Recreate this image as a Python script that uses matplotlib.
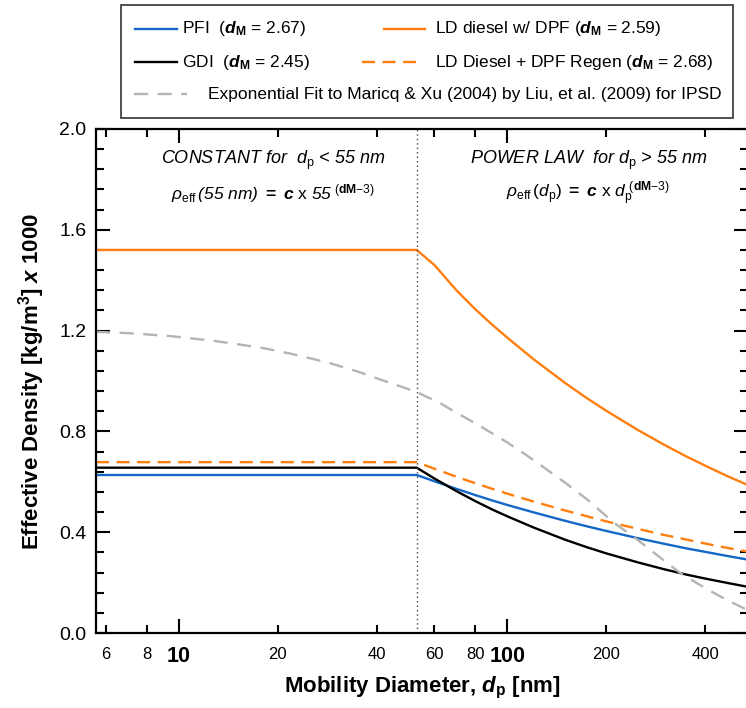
import numpy as np
import matplotlib
matplotlib.use("Agg")
import matplotlib.pyplot as plt
from matplotlib.ticker import FixedLocator, FixedFormatter, MultipleLocator, FormatStrFormatter
from matplotlib.lines import Line2D
from matplotlib.patches import Rectangle

plt.rcParams["font.family"] = ["Liberation Sans", "DejaVu Sans"]
plt.rcParams["mathtext.fontset"] = "custom"
plt.rcParams["mathtext.rm"] = "Liberation Sans"
plt.rcParams["mathtext.it"] = "Liberation Sans:italic"
plt.rcParams["mathtext.bf"] = "Liberation Sans:italic:bold"
plt.rcParams["mathtext.sf"] = "Liberation Sans:bold"

dp = [5.6, 53, 60, 70, 80, 90, 100, 120, 150, 175, 200, 250, 300, 350, 400, 470, 540]
pfi = [0.627, 0.627, 0.602, 0.572, 0.547, 0.526, 0.508, 0.479, 0.445, 0.423, 0.405,
       0.376, 0.354, 0.336, 0.322, 0.305, 0.291]
gdi = [0.656, 0.656, 0.613, 0.563, 0.523, 0.490, 0.463, 0.419, 0.370, 0.340, 0.316,
       0.280, 0.253, 0.232, 0.216, 0.198, 0.183]
ld_dpf = [1.52, 1.52, 1.46, 1.36, 1.284, 1.223, 1.172, 1.087, 0.992, 0.931, 0.882,
          0.805, 0.747, 0.701, 0.664, 0.621, 0.587]
ld_regen = [0.678, 0.678, 0.652, 0.620, 0.594, 0.572, 0.553, 0.522, 0.486, 0.463, 0.443,
            0.413, 0.389, 0.371, 0.355, 0.337, 0.323]

# exponential fit (Liu et al. 2009)
dp_fit = [5.6, 7, 9.5, 13, 17.7, 22, 28.3, 35, 41, 47, 53, 62.5, 70, 80, 90, 100, 113,
          126, 150, 175, 210, 250, 290, 336, 400, 466, 540]
rho_fit = [1.195, 1.19, 1.178, 1.158, 1.133, 1.108, 1.074, 1.038, 1.006, 0.98, 0.956,
           0.912, 0.874, 0.832, 0.792, 0.756, 0.71, 0.667, 0.596, 0.53, 0.44, 0.368,
           0.302, 0.238, 0.178, 0.131, 0.09]

d_split = 53

labels = [
    r"PFI  ($\mathbf{d}_{\mathsf{M}}$ = 2.67)",
    r"GDI  ($\mathbf{d}_{\mathsf{M}}$ = 2.45)",
    r"LD diesel w/ DPF ($\mathbf{d}_{\mathsf{M}}$ = 2.59)",
    r"LD Diesel + DPF Regen ($\mathbf{d}_{\mathsf{M}}$ = 2.68)",
    "Exponential Fit to Maricq & Xu (2004) by Liu, et al. (2009) for IPSD",
]

BLUE = "#1467c8"
ORANGE = "#ff7f0e"
GREY = "#b4b4b4"

W, H = 746, 708
fig = plt.figure(figsize=(W / 100, H / 100), dpi=100)
ax = fig.add_axes([96 / W, 75 / H, (748 - 96) / W, (633 - 129) / H])

lw = 1.7
ax.plot(dp, pfi, color=BLUE, lw=lw)
ax.plot(dp, gdi, color="black", lw=lw)
ax.plot(dp, ld_dpf, color=ORANGE, lw=lw)
ax.plot(dp, ld_regen, color=ORANGE, lw=lw, dashes=(5.5, 3.2))
ax.plot(dp_fit, rho_fit, color=GREY, lw=lw, dashes=(6, 4))
ax.axvline(d_split, color="#444444", lw=1.0, ls=(0, (1, 2.2)))

ax.set_xscale("log")
ax.set_xlim(5.6, 540)
ax.set_ylim(0, 2.0)

ax.xaxis.set_major_locator(FixedLocator([10, 100]))
ax.xaxis.set_major_formatter(FixedFormatter(["10", "100"]))
ax.xaxis.set_minor_locator(FixedLocator([6, 8, 20, 40, 60, 80, 200, 400]))
ax.xaxis.set_minor_formatter(FixedFormatter(["6", "8", "20", "40", "60", "80", "200", "400"]))
ax.yaxis.set_major_locator(MultipleLocator(0.4))
ax.yaxis.set_minor_locator(MultipleLocator(0.08))
ax.yaxis.set_major_formatter(FormatStrFormatter("%.1f"))

ax.tick_params(which="both", direction="in", top=True, right=True, width=1.5)
ax.tick_params(which="major", length=10)
ax.tick_params(which="minor", length=6)
ax.tick_params(axis="x", which="major", labelsize=15.5, pad=9)
ax.tick_params(axis="x", which="minor", labelsize=12, pad=10)
ax.tick_params(axis="y", which="major", labelsize=14, pad=7)
for t in ax.get_xticklabels():
    t.set_fontweight("bold")
for s in ax.spines.values():
    s.set_linewidth(1.6)

ax.set_xlabel(r"Mobility Diameter, $\mathbf{d}_{\mathsf{p}}$ [nm]", fontsize=16,
              fontweight="bold", labelpad=6)
ax.set_ylabel(r"Effective Density [kg/m$^{\mathsf{3}}$] $\mathbf{x}$ 1000", fontsize=16,
              fontweight="bold", labelpad=9)

# region annotations
ax.text(0.272, 0.938, r"CONSTANT for  $d_{\rm p}$ < 55 nm", transform=ax.transAxes,
        fontsize=13, style="italic", ha="center", va="center")
ax.text(0.272, 0.872,
        r"$\rho_{\rm eff}\,$(55 nm) $\mathsf{=}$ $\mathbf{c}$ $\rm x$ 55$^{\ \mathit{(}\mathsf{dM}\mathit{-3)}}$",
        transform=ax.transAxes, fontsize=12.5, style="italic", ha="center", va="center")
ax.text(0.755, 0.938, r"POWER LAW  for $d_{\rm p}$ > 55 nm", transform=ax.transAxes,
        fontsize=13, style="italic", ha="center", va="center")
ax.text(0.755, 0.872,
        r"$\rho_{\rm eff}\,\mathit{(}d_{\rm p}\mathit{)}$ $\mathsf{=}$ $\mathbf{c}$ $\rm x$ $d_{\rm p}^{\ \mathit{(}\mathsf{dM}\mathit{-3)}}$",
        transform=ax.transAxes, fontsize=12.5, style="italic", ha="center", va="center")

# legend box drawn in pixel coordinates
lax = fig.add_axes([0, 0, 1, 1], zorder=5)
lax.set_xlim(0, W)
lax.set_ylim(H, 0)
lax.axis("off")
lax.add_patch(Rectangle((121, 5), 733 - 121, 118 - 5, fill=True, facecolor="white",
                        edgecolor="#333333", lw=1.2))
handles = [
    ((135, 177), 29, dict(color=BLUE)),
    ((135, 177), 62, dict(color="black")),
    ((384, 425), 29, dict(color=ORANGE)),
    ((362, 416), 62, dict(color=ORANGE, dashes=(5.5, 3.2))),
    ((134, 187), 94, dict(color=GREY, dashes=(6, 4))),
]
text_x = [182, 182, 435, 435, 208]
for (xs, y, kw), tx, lab in zip(handles, text_x, labels):
    lax.add_line(Line2D(xs, [y, y], lw=lw, **kw))
    lax.text(tx, y, lab, fontsize=12.5, va="center", ha="left")

fig.savefig("out.png", dpi=100)
